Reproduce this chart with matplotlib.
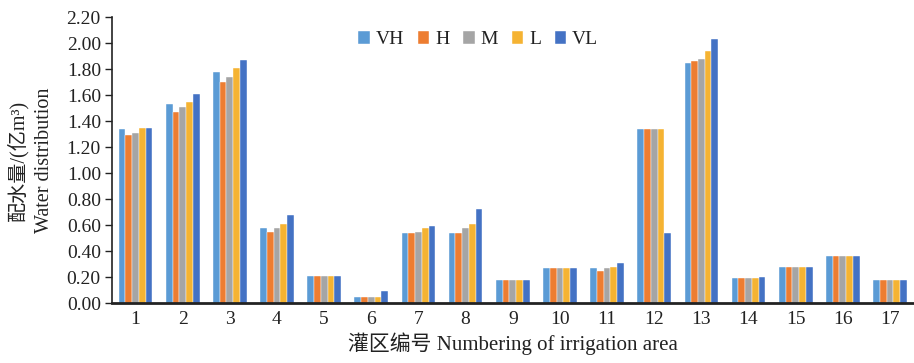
import numpy as np
import matplotlib
matplotlib.use('Agg')
import matplotlib.pyplot as plt

plt.rcParams['font.family'] = ['Liberation Serif', 'Noto Sans CJK SC']
plt.rcParams['axes.unicode_minus'] = False

areas = [str(i) for i in range(1, 18)]
series = ['VH', 'H', 'M', 'L', 'VL']
vh = [1.34, 1.53, 1.78, 0.58, 0.21, 0.05, 0.54, 0.54, 0.18, 0.27, 0.27, 1.34, 1.85, 0.19, 0.28, 0.36, 0.18]
h = [1.29, 1.47, 1.70, 0.55, 0.21, 0.05, 0.54, 0.54, 0.18, 0.27, 0.25, 1.34, 1.86, 0.19, 0.28, 0.36, 0.18]
m = [1.31, 1.51, 1.74, 0.58, 0.21, 0.05, 0.55, 0.58, 0.18, 0.27, 0.27, 1.34, 1.88, 0.19, 0.28, 0.36, 0.18]
l = [1.35, 1.55, 1.81, 0.61, 0.21, 0.05, 0.58, 0.61, 0.18, 0.27, 0.28, 1.34, 1.94, 0.19, 0.28, 0.36, 0.18]
vl = [1.35, 1.61, 1.87, 0.68, 0.21, 0.09, 0.59, 0.72, 0.18, 0.27, 0.31, 0.54, 2.03, 0.20, 0.28, 0.36, 0.18]
colors = ['#5B9BD5', '#ED7D31', '#A5A5A5', '#F5B332', '#4472C4']

fig = plt.figure(figsize=(9.14, 3.63), dpi=100)
ax = fig.add_axes([0.1225, 0.165, 0.877, 0.788])

x = np.arange(1, 18)
w = 0.143
for i, (name, vals) in enumerate(zip(series, [vh, h, m, l, vl])):
    ax.bar(x + (i - 2) * w, vals, width=w, color=colors[i], label=name,
           edgecolor='white', linewidth=0.3)

ax.set_xlim(0.5, 17.5)
ax.set_ylim(0, 2.2)
ticks = np.arange(0, 2.21, 0.2)
ax.set_yticks(ticks)
ax.set_yticklabels([f'{v:.2f}' for v in ticks])
ax.set_xticks(x)
ax.set_xticklabels(areas)
ax.tick_params(axis='y', labelsize=14, direction='out', length=5, width=1, pad=3, colors='#222222')
ax.tick_params(axis='x', labelsize=14, length=0, pad=6, colors='#222222')

ax.spines['top'].set_visible(False)
ax.spines['right'].set_visible(False)
ax.spines['left'].set_linewidth(1.2)
ax.spines['bottom'].set_linewidth(2)
ax.spines['left'].set_color('#222222')
ax.spines['bottom'].set_color('#222222')

ax.set_ylabel('配水量/(亿m³)\nWater distribution', fontsize=14.5, labelpad=9,
              linespacing=1.5, color='#222222')
ax.set_xlabel('灌区编号 Numbering of irrigation area', fontsize=15, labelpad=3,
              color='#222222')

leg = ax.legend(loc='center', bbox_to_anchor=(0.457, 0.92), ncol=5, frameon=False,
                fontsize=14, handlelength=0.6, handleheight=0.6, handletextpad=0.3,
                columnspacing=0.7)
for t in leg.get_texts():
    t.set_color('#222222')

plt.savefig('out.png', dpi=100)
plt.close()
